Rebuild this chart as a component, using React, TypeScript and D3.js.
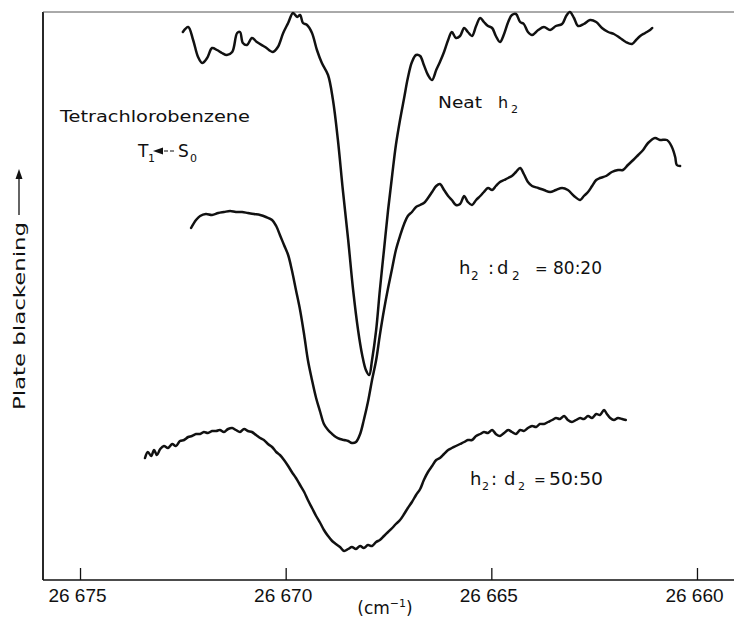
import { useEffect, useRef } from 'react';
import * as d3 from 'd3';

type Pt = [number, number]; // [wavenumber cm-1, plate blackening (arb.)]

const xTicks = [26675, 26670, 26665, 26660];

const neatH2: Pt[] = [
  [26672.5, 54.8], [26672.37, 55.3], [26672.25, 54.0], [26672.13, 52.3], [26672.03, 51.7], [26671.91, 52.2],
  [26671.79, 53.2], [26671.67, 53.0], [26671.55, 52.7], [26671.43, 52.5], [26671.3, 52.8], [26671.18, 54.7],
  [26671.11, 54.8], [26671.04, 53.7], [26670.94, 53.5], [26670.82, 54.2], [26670.7, 53.8], [26670.5, 53.3],
  [26670.31, 52.8], [26670.19, 53.3], [26670.06, 54.7], [26669.94, 55.7], [26669.82, 56.7], [26669.72, 56.3],
  [26669.65, 56.5], [26669.58, 55.7], [26669.48, 55.5], [26669.36, 54.7], [26669.24, 53.0], [26669.12, 51.7],
  [26668.97, 50.5], [26668.85, 48.0], [26668.73, 44.0], [26668.61, 39.0], [26668.48, 34.0], [26668.36, 29.0],
  [26668.24, 25.0], [26668.14, 22.5], [26668.05, 21.0], [26667.97, 20.5], [26667.9, 22.0], [26667.8, 25.0],
  [26667.71, 29.0], [26667.61, 33.0], [26667.51, 37.0], [26667.41, 40.5], [26667.32, 43.5], [26667.22, 46.0],
  [26667.12, 48.2], [26667.03, 50.2], [26666.93, 51.8], [26666.83, 52.5], [26666.73, 52.4], [26666.64, 51.5],
  [26666.54, 50.5], [26666.44, 50.0], [26666.34, 51.0], [26666.25, 51.8], [26666.15, 52.8], [26666.05, 54.0],
  [26665.96, 54.8], [26665.86, 54.2], [26665.76, 54.4], [26665.66, 55.2], [26665.57, 54.8], [26665.47, 54.4],
  [26665.37, 55.4], [26665.27, 56.2], [26665.18, 55.8], [26665.08, 55.4], [26664.98, 55.2], [26664.89, 54.4],
  [26664.79, 53.8], [26664.69, 54.6], [26664.59, 55.8], [26664.5, 56.5], [26664.4, 56.6], [26664.3, 55.8],
  [26664.21, 55.6], [26664.11, 54.8], [26664.01, 54.5], [26663.86, 55.0], [26663.72, 55.3], [26663.57, 55.0],
  [26663.43, 55.4], [26663.28, 55.6], [26663.18, 56.4], [26663.09, 56.8], [26662.99, 56.2], [26662.89, 55.4],
  [26662.75, 55.6], [26662.6, 56.0], [26662.45, 55.8], [26662.31, 55.2], [26662.16, 54.8], [26662.02, 54.6],
  [26661.87, 54.2], [26661.73, 53.8], [26661.58, 53.6], [26661.48, 54.0], [26661.38, 54.4], [26661.26, 54.7],
  [26661.14, 55.0], [26661.09, 55.2],
];

const mix8020: Pt[] = [
  [26672.3, 35.2], [26672.18, 36.0], [26672.08, 36.4], [26671.94, 36.6], [26671.79, 36.5], [26671.64, 36.7],
  [26671.5, 36.8], [26671.35, 36.9], [26671.21, 36.8], [26671.06, 36.8], [26670.92, 36.7], [26670.77, 36.6],
  [26670.62, 36.5], [26670.48, 36.3], [26670.33, 36.0], [26670.23, 35.4], [26670.14, 34.5], [26670.04, 33.5],
  [26669.94, 32.5], [26669.85, 31.0], [26669.75, 29.0], [26669.65, 27.0], [26669.55, 24.5], [26669.46, 22.0],
  [26669.36, 20.0], [26669.26, 18.2], [26669.16, 16.8], [26669.07, 15.6], [26668.97, 15.0], [26668.87, 14.6],
  [26668.78, 14.3], [26668.68, 14.1], [26668.58, 14.0], [26668.48, 13.9], [26668.39, 13.7], [26668.29, 13.8],
  [26668.19, 14.6], [26668.1, 16.0], [26668.0, 17.8], [26667.9, 20.0], [26667.8, 22.0], [26667.71, 24.5],
  [26667.61, 27.0], [26667.51, 29.2], [26667.41, 31.2], [26667.32, 33.0], [26667.22, 34.4], [26667.12, 35.6],
  [26667.03, 36.4], [26666.93, 36.8], [26666.83, 37.3], [26666.73, 37.5], [26666.64, 37.7], [26666.54, 38.2],
  [26666.44, 38.8], [26666.34, 39.4], [26666.25, 39.6], [26666.15, 39.0], [26666.05, 38.4], [26665.96, 38.0],
  [26665.86, 37.5], [26665.76, 37.6], [26665.66, 38.4], [26665.57, 37.8], [26665.47, 37.5], [26665.37, 38.0],
  [26665.27, 38.4], [26665.18, 38.8], [26665.08, 39.2], [26664.98, 39.0], [26664.89, 39.4], [26664.79, 39.8],
  [26664.69, 40.0], [26664.59, 40.2], [26664.5, 40.4], [26664.4, 40.8], [26664.3, 41.2], [26664.21, 40.6],
  [26664.11, 39.8], [26664.01, 39.4], [26663.86, 39.2], [26663.72, 39.0], [26663.57, 38.8], [26663.43, 39.0],
  [26663.28, 39.2], [26663.14, 39.0], [26662.99, 38.4], [26662.84, 38.0], [26662.75, 38.4], [26662.65, 38.8],
  [26662.55, 39.4], [26662.45, 40.0], [26662.36, 40.2], [26662.21, 40.4], [26662.07, 40.8], [26661.92, 41.0],
  [26661.8, 41.0], [26661.68, 41.5], [26661.55, 42.0], [26661.43, 42.5], [26661.31, 43.0], [26661.19, 43.7],
  [26661.02, 44.2], [26660.9, 44.0], [26660.73, 44.0], [26660.61, 43.3], [26660.53, 42.3], [26660.49, 41.5],
  [26660.41, 41.4],
];

const mix5050: Pt[] = [
  [26673.42, 12.2], [26673.35, 12.8], [26673.27, 12.4], [26673.2, 13.0], [26673.13, 12.5], [26673.05, 13.1],
  [26672.96, 13.4], [26672.86, 13.2], [26672.76, 13.6], [26672.67, 13.4], [26672.57, 13.9], [26672.47, 14.0],
  [26672.37, 14.3], [26672.28, 14.4], [26672.18, 14.6], [26672.08, 14.6], [26671.99, 14.8], [26671.89, 14.7],
  [26671.79, 14.9], [26671.69, 14.9], [26671.6, 15.0], [26671.5, 14.8], [26671.4, 15.1], [26671.3, 15.2],
  [26671.21, 15.0], [26671.11, 14.8], [26671.01, 15.1], [26670.92, 14.9], [26670.82, 14.8], [26670.72, 14.5],
  [26670.62, 14.2], [26670.53, 14.0], [26670.43, 13.6], [26670.33, 13.3], [26670.23, 12.8], [26670.14, 12.5],
  [26670.04, 12.0], [26669.94, 11.4], [26669.85, 10.8], [26669.75, 10.2], [26669.65, 9.5], [26669.55, 8.8],
  [26669.46, 8.0], [26669.36, 7.2], [26669.26, 6.4], [26669.16, 5.7], [26669.07, 5.0], [26668.97, 4.4],
  [26668.87, 3.9], [26668.78, 3.6], [26668.68, 3.3], [26668.58, 2.9], [26668.48, 3.1], [26668.39, 3.3],
  [26668.29, 3.1], [26668.19, 3.4], [26668.1, 3.2], [26668.0, 3.5], [26667.9, 3.4], [26667.8, 3.8],
  [26667.71, 4.0], [26667.61, 4.4], [26667.51, 4.8], [26667.41, 5.2], [26667.32, 5.6], [26667.22, 6.0],
  [26667.12, 6.6], [26667.03, 7.2], [26666.93, 7.8], [26666.83, 8.5], [26666.73, 9.1], [26666.64, 10.0],
  [26666.54, 10.8], [26666.44, 11.4], [26666.34, 12.0], [26666.25, 12.2], [26666.15, 12.6], [26666.05, 13.0],
  [26665.96, 13.2], [26665.86, 13.4], [26665.76, 13.6], [26665.66, 13.8], [26665.57, 14.0], [26665.47, 14.0],
  [26665.37, 14.4], [26665.27, 14.6], [26665.18, 14.8], [26665.08, 14.7], [26664.98, 15.0], [26664.89, 14.6],
  [26664.79, 14.4], [26664.69, 14.7], [26664.59, 15.0], [26664.5, 14.8], [26664.4, 14.6], [26664.3, 15.0],
  [26664.21, 14.9], [26664.11, 15.2], [26664.01, 15.4], [26663.91, 15.3], [26663.82, 15.6], [26663.72, 15.6],
  [26663.62, 15.8], [26663.52, 16.0], [26663.43, 16.2], [26663.33, 16.1], [26663.23, 16.4], [26663.14, 16.0],
  [26663.04, 15.8], [26662.94, 16.0], [26662.84, 16.2], [26662.75, 16.1], [26662.65, 16.4], [26662.55, 16.2],
  [26662.45, 16.6], [26662.36, 16.5], [26662.26, 17.0], [26662.19, 16.6], [26662.11, 16.2], [26662.02, 16.0],
  [26661.92, 16.2], [26661.82, 16.1], [26661.73, 16.0],
];

const FONT = "'Liberation Sans', Arial, Helvetica, sans-serif";
const WIDE = "'DejaVu Sans', Verdana, sans-serif";
const INK = '#111';

const App = () => {
  const svgRef = useRef<SVGSVGElement>(null);

  useEffect(() => {
    if (!svgRef.current) return;
    const svg = d3.select(svgRef.current);
    svg.selectAll('*').remove();

    const width = 734;
    const height = 632;
    const margin = { top: 12, right: 0, bottom: 52, left: 43 };

    const x = d3.scaleLinear().domain([26675.9, 26659.1]).range([margin.left, width - margin.right]);
    const y = d3.scaleLinear().domain([0, 56.8]).range([height - margin.bottom, margin.top]);

    svg.append('rect').attr('width', width).attr('height', height).attr('fill', '#fff');

    // frame: left, top, bottom
    svg.append('line')
      .attr('x1', margin.left).attr('x2', margin.left)
      .attr('y1', margin.top).attr('y2', y(0))
      .attr('stroke', INK).attr('stroke-width', 1.8);
    svg.append('line')
      .attr('x1', margin.left).attr('x2', width)
      .attr('y1', margin.top).attr('y2', margin.top)
      .attr('stroke', '#555').attr('stroke-width', 1);
    svg.append('line')
      .attr('x1', margin.left).attr('x2', width)
      .attr('y1', y(0)).attr('y2', y(0))
      .attr('stroke', INK).attr('stroke-width', 1.4);

    // x axis, ticks pointing inward
    const xAxis = d3.axisBottom(x)
      .tickValues(xTicks)
      .tickSizeInner(-12)
      .tickSizeOuter(0)
      .tickPadding(9)
      .tickFormat((d) => {
        const s = String(d);
        return `${s.slice(0, 2)} ${s.slice(2)}`;
      });
    const gx = svg.append('g').attr('transform', `translate(0,${y(0)})`).call(xAxis);
    gx.select('.domain').remove();
    gx.selectAll('.tick line').attr('stroke', INK).attr('stroke-width', 1.3);
    gx.selectAll('.tick text')
      .attr('x', -3)
      .attr('font-size', 19)
      .attr('font-family', FONT)
      .attr('fill', INK);

    // x axis title (cm^-1)
    const xt = svg.append('text')
      .attr('x', 385).attr('y', 614)
      .attr('text-anchor', 'middle')
      .attr('font-size', 17).attr('font-family', WIDE).attr('fill', INK);
    xt.append('tspan').text('(cm');
    xt.append('tspan').attr('dy', -7).attr('font-size', 11).text('−1');
    xt.append('tspan').attr('dy', 7).text(')');

    // y axis title with arrow
    svg.append('text')
      .attr('transform', 'translate(25,410) rotate(-90)')
      .attr('font-size', 16).attr('font-family', WIDE).attr('fill', INK)
      .attr('textLength', 188).attr('lengthAdjust', 'spacingAndGlyphs')
      .text('Plate blackening');
    svg.append('line')
      .attr('x1', 19).attr('x2', 19).attr('y1', 215).attr('y2', 176)
      .attr('stroke', INK).attr('stroke-width', 1.3);
    svg.append('path')
      .attr('d', 'M19,169 L15.5,179 L22.5,179 Z')
      .attr('fill', INK);

    // spectra
    const line = d3.line<Pt>()
      .x((d) => x(d[0]))
      .y((d) => y(d[1]))
      .curve(d3.curveCatmullRom.alpha(0.5));

    [neatH2, mix8020, mix5050].forEach((series) => {
      svg.append('path')
        .datum(series)
        .attr('d', line)
        .attr('fill', 'none')
        .attr('stroke', INK)
        .attr('stroke-width', 2.5)
        .attr('stroke-linejoin', 'round')
        .attr('stroke-linecap', 'round');
    });

    const txt = (px: number, py: number, s: string, size: number, len?: number) => {
      const t = svg.append('text')
        .attr('x', px).attr('y', py)
        .attr('font-size', size).attr('font-family', WIDE).attr('fill', INK)
        .text(s);
      if (len) t.attr('textLength', len).attr('lengthAdjust', 'spacingAndGlyphs');
      return t;
    };

    // annotations
    txt(60, 122, 'Tetrachlorobenzene', 15, 190);

    txt(138, 157, 'T', 17);
    txt(148, 162, '1', 11);
    svg.append('line')
      .attr('x1', 158).attr('x2', 176).attr('y1', 151).attr('y2', 151)
      .attr('stroke', INK).attr('stroke-width', 1.1).attr('stroke-dasharray', '4,2');
    svg.append('path').attr('d', 'M153,151 L163,147.5 L163,154.5 Z').attr('fill', INK);
    txt(178, 157, 'S', 17);
    txt(190, 162, '0', 11);

    txt(438, 108, 'Neat', 16, 44);
    txt(498, 108, 'h', 16);
    txt(511, 113, '2', 11);

    txt(459, 274, 'h', 18);
    txt(471, 280, '2', 12);
    txt(488, 274, ':', 18);
    txt(497, 274, 'd', 18);
    txt(512, 280, '2', 12);
    txt(535, 274, '=', 15);
    txt(553, 274, '80:20', 18, 49);

    txt(470, 485, 'h', 18);
    txt(482, 490, '2', 11);
    txt(491, 485, ':', 18);
    txt(504, 485, 'd', 18);
    txt(518, 490, '2', 11);
    txt(534, 485, '=', 14);
    txt(549, 485, '50:50', 18, 54);
  }, []);

  return (
    <svg
      ref={svgRef}
      width={734}
      height={632}
      style={{ position: 'absolute', left: 0, top: 0, display: 'block' }}
    />
  );
};

export default App;
